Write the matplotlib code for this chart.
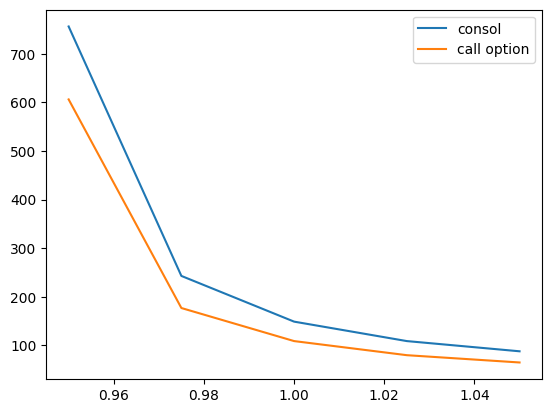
import matplotlib
matplotlib.use("Agg")
import matplotlib.pyplot as plt

strikes = [0.95, 0.975, 1.0, 1.025, 1.05]
consol = [756, 243, 149, 109, 88]
call_option = [606, 177, 109, 80, 65]

fig, ax = plt.subplots(figsize=(6.4, 4.8), dpi=100)
ax.plot(strikes, consol, label="consol")
ax.plot(strikes, call_option, label="call option")
ax.legend()

fig.savefig("out.png", dpi=100, bbox_inches="tight")
